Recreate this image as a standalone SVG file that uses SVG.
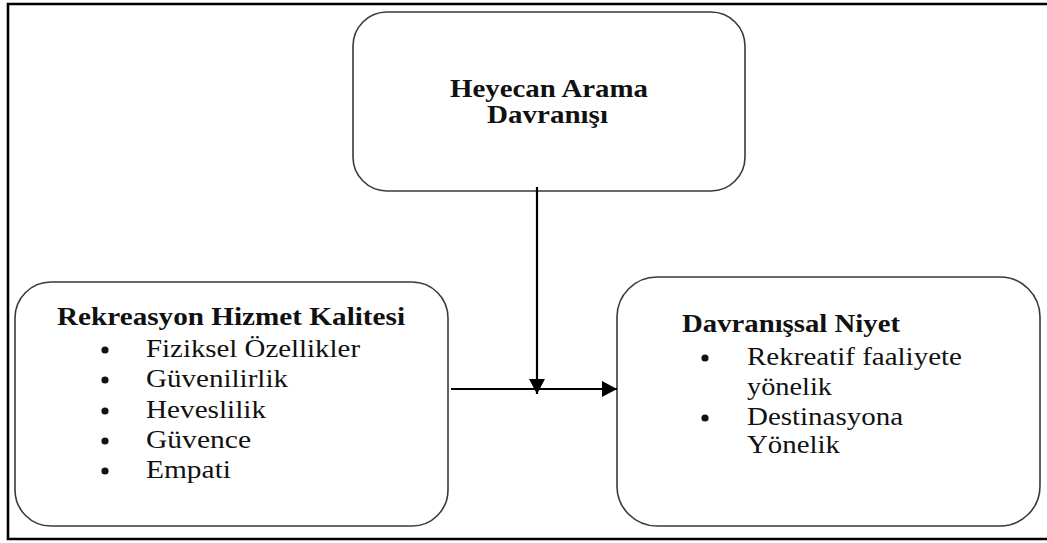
<svg xmlns="http://www.w3.org/2000/svg" width="1047" height="543" viewBox="0 0 1047 543">
<style>
.box{fill:#fff;stroke:#3a3a3a;stroke-width:1.6}
.t{font-family:"Liberation Serif","Times New Roman",serif;font-size:25px;fill:#111}
.b{font-weight:bold}
.dot{fill:#111}
.con{stroke:#000;stroke-width:2.2;fill:none}
</style>
<defs>
<marker id="ah" markerUnits="userSpaceOnUse" markerWidth="16" markerHeight="16" refX="15" refY="8" orient="auto">
<path d="M0,0 L15,8 L0,16 Z" fill="#000"/>
</marker>
</defs>
<rect width="1047" height="543" fill="#fff"/>
<path d="M1050,4 H8 V539 H1050" fill="none" stroke="#000" stroke-width="2.6"/>
<g id="heyecan">
<rect class="box" x="353" y="12" width="392" height="179" rx="34" ry="34"/>
<text class="t b" x="450" y="97" textLength="198" lengthAdjust="spacingAndGlyphs">Heyecan Arama</text>
<text class="t b" x="487" y="123" textLength="121" lengthAdjust="spacingAndGlyphs">Davranışı</text>
</g>
<g id="rekreasyon">
<rect class="box" x="15" y="282" width="433" height="244" rx="36" ry="36"/>
<text class="t b" x="57" y="325" textLength="348" lengthAdjust="spacingAndGlyphs">Rekreasyon Hizmet Kalitesi</text>
<circle class="dot" cx="105" cy="350" r="3.6"/>
<circle class="dot" cx="105" cy="380" r="3.6"/>
<circle class="dot" cx="105" cy="411" r="3.6"/>
<circle class="dot" cx="105" cy="441" r="3.6"/>
<circle class="dot" cx="105" cy="471" r="3.6"/>
<text class="t" x="146" y="357" textLength="214" lengthAdjust="spacingAndGlyphs">Fiziksel Özellikler</text>
<text class="t" x="146" y="387" textLength="142" lengthAdjust="spacingAndGlyphs">Güvenilirlik</text>
<text class="t" x="146" y="418" textLength="120" lengthAdjust="spacingAndGlyphs">Heveslilik</text>
<text class="t" x="146" y="448" textLength="105" lengthAdjust="spacingAndGlyphs">Güvence</text>
<text class="t" x="146" y="478" textLength="85" lengthAdjust="spacingAndGlyphs">Empati</text>
</g>
<g id="niyet">
<rect class="box" x="617" y="277" width="423" height="249" rx="40" ry="40"/>
<text class="t b" x="682" y="332" textLength="218" lengthAdjust="spacingAndGlyphs">Davranışsal Niyet</text>
<circle class="dot" cx="705" cy="358" r="3.6"/>
<circle class="dot" cx="705" cy="418" r="3.6"/>
<text class="t" x="747" y="365" textLength="215" lengthAdjust="spacingAndGlyphs">Rekreatif faaliyete</text>
<text class="t" x="747" y="395" textLength="85" lengthAdjust="spacingAndGlyphs">yönelik</text>
<text class="t" x="747" y="425" textLength="156" lengthAdjust="spacingAndGlyphs">Destinasyona</text>
<text class="t" x="747" y="453" textLength="93" lengthAdjust="spacingAndGlyphs">Yönelik</text>
</g>
<g id="connectors">
<line class="con" x1="537" y1="187" x2="537" y2="394" marker-end="url(#ah)"/>
<line class="con" x1="451" y1="389" x2="617" y2="389" marker-end="url(#ah)"/>
</g>
</svg>
